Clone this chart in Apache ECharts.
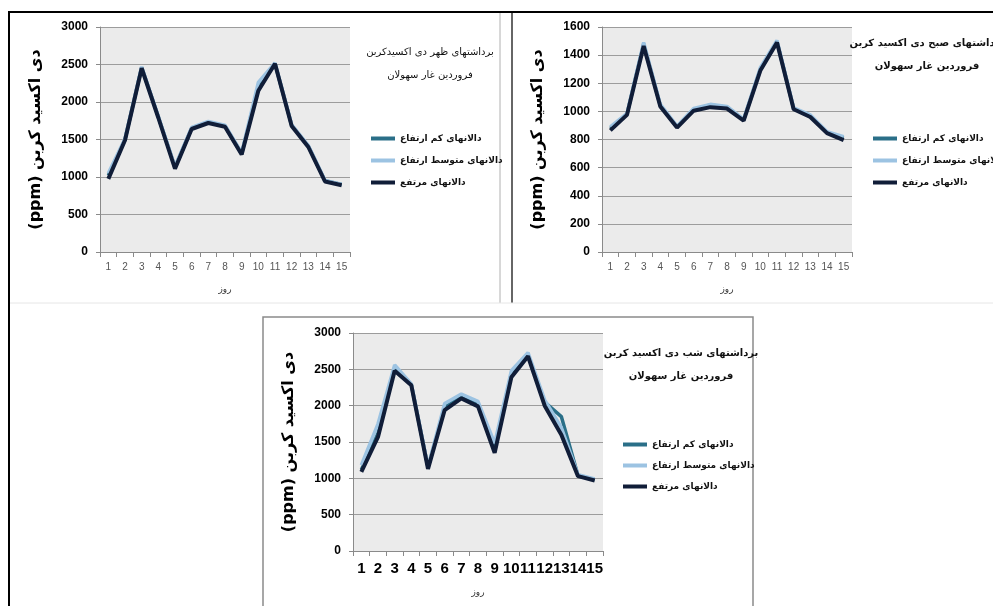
<!DOCTYPE html>
<html>
<head>
<meta charset="utf-8">
<script src="https://cdn.jsdelivr.net/npm/echarts@6/dist/echarts.min.js"></script>
<style>
  html, body { margin: 0; padding: 0; background: #fff; }
  #chart { width: 993px; height: 606px; }
</style>
</head>
<body>
<div id="chart"></div>
<script>
// روزها
const days = ['1', '2', '3', '4', '5', '6', '7', '8', '9', '10', '11', '12', '13', '14', '15']
const seriesNames = ['دالانهای کم ارتفاع', 'دالانهای متوسط ارتفاع', 'دالانهای مرتفع']

// ظهر
const noonLow = [1020, 1500, 2460, 1800, 1130, 1650, 1730, 1680, 1310, 2200, 2510, 1690, 1410, 950, 900]
const noonMid = [1050, 1510, 2470, 1810, 1140, 1660, 1740, 1690, 1320, 2260, 2520, 1700, 1420, 955, 900]
const noonHigh = [975, 1490, 2450, 1790, 1110, 1640, 1720, 1670, 1300, 2150, 2510, 1680, 1400, 940, 890]

// صبح
const mornLow = [880, 980, 1480, 1040, 890, 1010, 1045, 1030, 940, 1300, 1495, 1020, 965, 850, 810]
const mornMid = [890, 985, 1490, 1050, 895, 1020, 1050, 1035, 945, 1310, 1505, 1025, 975, 855, 820]
const mornHigh = [865, 975, 1465, 1035, 885, 1005, 1030, 1020, 935, 1290, 1490, 1015, 960, 845, 795]

// شب
const nightLow = [1120, 1620, 2510, 2290, 1150, 1980, 2120, 2010, 1380, 2440, 2700, 2050, 1850, 1040, 980]
const nightMid = [1180, 1750, 2560, 2300, 1160, 2030, 2160, 2060, 1480, 2480, 2730, 2080, 1700, 1050, 990]
const nightHigh = [1090, 1570, 2480, 2280, 1130, 1940, 2100, 1990, 1350, 2390, 2680, 2000, 1600, 1030, 970]

const colors = ['#2a6f88', '#9cc3e2', '#101d38']
const arabicFont = 'DejaVu Sans'
const yTitle = '(ppm) دی اکسید کربن'

const chart = echarts.init(document.getElementById('chart'), null, { renderer: 'canvas' })

const makeX = (gridIndex, big) => ({
  type: 'category',
  gridIndex,
  data: days,
  name: 'روز',
  nameLocation: 'middle',
  nameGap: big ? 37 : 33,
  nameTextStyle: { fontFamily: arabicFont, fontSize: 9, color: '#333' },
  axisLine: { lineStyle: { color: '#8a8a8a' } },
  axisTick: { show: true, length: 5, lineStyle: { color: '#8a8a8a' } },
  axisLabel: big
    ? { fontFamily: 'Liberation Sans', fontWeight: 'bold', fontSize: 15, color: '#000', margin: 10, interval: 0 }
    : { fontFamily: 'Liberation Sans', fontSize: 10, color: '#555', margin: 10, interval: 0 }
})

const makeY = (gridIndex, max, interval) => ({
  type: 'value',
  gridIndex,
  min: 0,
  max,
  interval,
  name: yTitle,
  nameLocation: 'middle',
  nameRotate: 90,
  nameGap: 56,
  nameTextStyle: { fontFamily: arabicFont, fontWeight: 'bold', fontSize: 16, color: '#000' },
  axisLine: { show: true, lineStyle: { color: '#8a8a8a' } },
  axisTick: { show: true, length: 4, lineStyle: { color: '#8a8a8a' } },
  axisLabel: {
    fontFamily: 'Liberation Sans',
    fontWeight: 'bold',
    fontSize: 12,
    color: '#000',
    margin: 12,
    formatter: (v) => String(v)
  },
  splitLine: { lineStyle: { color: '#9c9c9c', width: 1 } }
})

const makeSeries = (idx, low, mid, high) => [low, mid, high].map((d, i) => ({
  name: seriesNames[i],
  type: 'line',
  xAxisIndex: idx,
  yAxisIndex: idx,
  data: d,
  symbol: 'none',
  color: colors[i],
  lineStyle: { width: i === 2 ? 4 : 3.5, color: colors[i] },
  z: 2 + i
}))

const makeLegend = (left, top, gap) => ({
  data: seriesNames,
  orient: 'vertical',
  left,
  top,
  itemGap: gap,
  itemWidth: 24,
  itemHeight: 4,
  icon: 'rect',
  textStyle: { fontFamily: arabicFont, fontWeight: 'bold', fontSize: 9, color: '#111' }
})

const makeTitle = (x, y, text, bold) => ({
  text,
  left: x,
  top: y,
  textAlign: 'center',
  textStyle: { fontFamily: arabicFont, fontSize: 10, fontWeight: bold ? 'bold' : 'normal', color: '#111', lineHeight: 23 }
})

const option = {
  backgroundColor: '#fff',
  animation: false,
  title: [
    makeTitle(425, 36, 'برداشتهای ظهر دی اکسیدکربن\nفروردین غار سهولان', false),
    makeTitle(922, 27, 'برداشتهای صبح دی اکسید کربن\nفروردین غار سهولان', true),
    makeTitle(676, 337, 'برداشتهای شب دی اکسید کربن\nفروردین غار سهولان', true)
  ],
  legend: [makeLegend(366, 129, 13), makeLegend(868, 129, 13), makeLegend(618, 435, 12)],
  grid: [
    { left: 100, top: 27, width: 250, height: 225, show: true, backgroundColor: '#ebebeb', borderWidth: 0 },
    { left: 602, top: 27, width: 250, height: 225, show: true, backgroundColor: '#ebebeb', borderWidth: 0 },
    { left: 353, top: 333, width: 250, height: 218, show: true, backgroundColor: '#ebebeb', borderWidth: 0 }
  ],
  xAxis: [makeX(0, false), makeX(1, false), makeX(2, true)],
  yAxis: [makeY(0, 3000, 500), makeY(1, 1600, 200), makeY(2, 3000, 500)],
  series: [
    ...makeSeries(0, noonLow, noonMid, noonHigh),
    ...makeSeries(1, mornLow, mornMid, mornHigh),
    ...makeSeries(2, nightLow, nightMid, nightHigh)
  ],
  graphic: [
    { type: 'line', shape: { x1: 8, y1: 12, x2: 993, y2: 12 }, style: { stroke: '#000', lineWidth: 2 } },
    { type: 'line', shape: { x1: 9, y1: 12, x2: 9, y2: 606 }, style: { stroke: '#000', lineWidth: 2 } },
    { type: 'line', shape: { x1: 500, y1: 13, x2: 500, y2: 303 }, style: { stroke: '#b0b0b0', lineWidth: 1 } },
    { type: 'line', shape: { x1: 512, y1: 13, x2: 512, y2: 303 }, style: { stroke: '#666', lineWidth: 2 } },
    { type: 'line', shape: { x1: 10, y1: 303, x2: 993, y2: 303 }, style: { stroke: '#e6e6e6', lineWidth: 1 } },
    { type: 'rect', shape: { x: 263, y: 317, width: 490, height: 300 }, style: { fill: 'none', stroke: '#8a8a8a', lineWidth: 1.5 } }
  ]
}

chart.setOption(option)
</script>
</body>
</html>
